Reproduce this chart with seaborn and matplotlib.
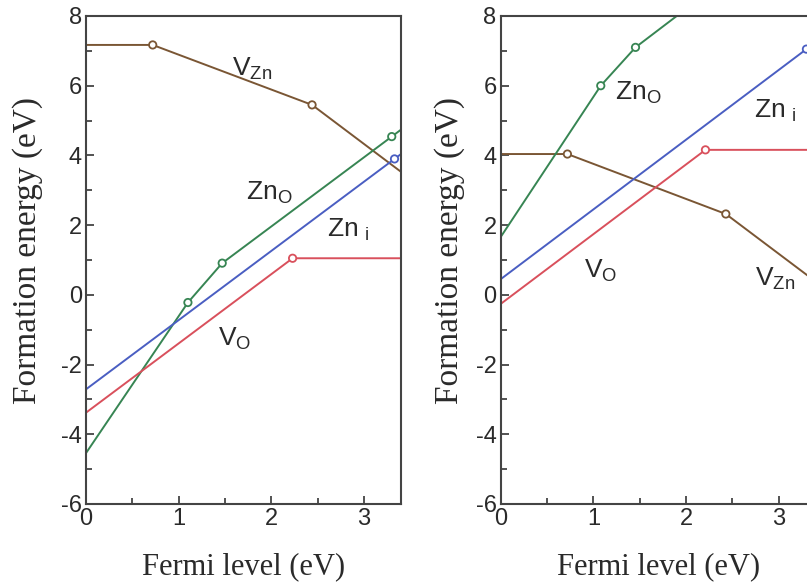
import matplotlib
matplotlib.use("Agg")
import matplotlib.pyplot as plt
import seaborn as sns
import pandas as pd
from matplotlib.ticker import MultipleLocator

# ---------------- data ----------------
# Left panel
L_VZn_x = [0.0, 0.72, 2.44, 3.4]
L_VZn_y = [7.17, 7.17, 5.45, 3.53]
L_ZnO_x = [0.0, 1.10, 1.47, 3.30, 3.4]
L_ZnO_y = [-4.54, -0.22, 0.91, 4.54, 4.74]
L_Zni_x = [0.0, 3.33, 3.4]
L_Zni_y = [-2.71, 3.90, 4.04]
L_VO_x = [0.0, 2.23, 3.4]
L_VO_y = [-3.38, 1.05, 1.05]

# Right panel
R_VZn_x = [0.0, 0.72, 2.43, 3.4]
R_VZn_y = [4.04, 4.04, 2.32, 0.38]
R_ZnO_x = [0.0, 1.08, 1.455, 1.90]
R_ZnO_y = [1.66, 6.00, 7.10, 8.00]
R_Zni_x = [0.0, 3.30, 3.4]
R_Zni_y = [0.45, 7.05, 7.25]
R_VO_x = [0.0, 2.21, 3.4]
R_VO_y = [-0.26, 4.16, 4.16]

# transition-level markers (open circles)
L_mark = {"VZn": [0.72, 2.44], "ZnO": [1.10, 1.47, 3.30], "Zni": [3.33], "VO": [2.23]}
R_mark = {"VZn": [0.72, 2.43], "ZnO": [1.08, 1.455], "Zni": [3.30], "VO": [2.21]}

defects = ["VZn", "ZnO", "Zni", "VO"]
colors = {"VZn": "#7a5634", "ZnO": "#378553", "Zni": "#4a5ec2", "VO": "#d9505c"}

xlabel = "Fermi level (eV)"
ylabel = "Formation energy (eV)"
xlim = (0, 3.4)
ylim = (-6, 8)

# label positions (data coords of text baseline-left)
L_labels = {"VZn": (1.58, 6.28), "ZnO": (1.73, 2.73), "Zni": (2.60, 1.66), "VO": (1.43, -1.46)}
R_labels = {"VZn": (2.75, 0.26), "ZnO": (1.23, 5.59), "Zni": (2.73, 5.07), "VO": (0.90, 0.49)}
label_text = {"VZn": r"$\mathregular{V_{Zn}}$", "ZnO": r"$\mathregular{Zn_{O}}$",
              "Zni": r"$\mathregular{Zn_{\ i}}$", "VO": r"$\mathregular{V_{O}}$"}

# ---------------- build tables ----------------
def table(xs, ys):
    rows = []
    for d in defects:
        for x, y in zip(xs[d], ys[d]):
            rows.append({"defect": d, "x": x, "y": y})
    return pd.DataFrame(rows)

L_df = table({"VZn": L_VZn_x, "ZnO": L_ZnO_x, "Zni": L_Zni_x, "VO": L_VO_x},
             {"VZn": L_VZn_y, "ZnO": L_ZnO_y, "Zni": L_Zni_y, "VO": L_VO_y})
R_df = table({"VZn": R_VZn_x, "ZnO": R_ZnO_x, "Zni": R_Zni_x, "VO": R_VO_x},
             {"VZn": R_VZn_y, "ZnO": R_ZnO_y, "Zni": R_Zni_y, "VO": R_VO_y})

def marks(df, mk):
    out = []
    for d in defects:
        sub = df[df.defect == d]
        for xv in mk[d]:
            out.append(sub[abs(sub.x - xv) < 1e-9])
    return pd.concat(out)

sns.set_style("ticks")
plt.rcParams["font.family"] = ["Liberation Sans", "DejaVu Sans"]
plt.rcParams["axes.unicode_minus"] = False
plt.rcParams["mathtext.fontset"] = "custom"

fig = plt.figure(figsize=(8.07, 5.88), dpi=100)
axL = fig.add_axes([86 / 807, 1 - 504 / 588, 315 / 807, 488 / 588])
axR = fig.add_axes([500.7 / 807, 1 - 504 / 588, 315 / 807, 488 / 588])

spine_col = "#444444"
text_col = "#2a2a2a"
for ax, df, mk, labs, ylx in [(axL, L_df, L_mark, L_labels, -0.137),
                              (axR, R_df, R_mark, R_labels, -0.113)]:
    sns.lineplot(data=df, x="x", y="y", hue="defect", palette=colors, sort=False,
                 estimator=None, units="defect", lw=1.4, legend=False, ax=ax, zorder=2)
    mdf = marks(df, mk)
    sns.scatterplot(data=mdf, x="x", y="y", hue="defect", palette=colors, ax=ax,
                    legend=False, s=28, zorder=3)
    coll = ax.collections[-1]
    coll.set_facecolor("white")
    coll.set_edgecolor([colors[d] for d in mdf.defect])
    coll.set_linewidth(1.3)
    coll.set_clip_on(False)
    for d in defects:
        ax.text(labs[d][0], labs[d][1], label_text[d], fontsize=19, color=text_col,
                family="Liberation Sans")
    ax.set_xlim(*xlim)
    ax.set_ylim(*ylim)
    ax.xaxis.set_major_locator(MultipleLocator(1))
    ax.xaxis.set_minor_locator(MultipleLocator(0.5))
    ax.yaxis.set_major_locator(MultipleLocator(2))
    ax.yaxis.set_minor_locator(MultipleLocator(1))
    ax.tick_params(which="both", direction="in", colors=spine_col, width=1.3,
                   labelcolor=text_col, labelsize=17, pad=3)
    ax.tick_params(which="major", length=6)
    ax.tick_params(which="minor", length=4)
    for s in ax.spines.values():
        s.set_color(spine_col)
        s.set_linewidth(1.5)
        s.set_visible(True)
    ax.set_xlabel(xlabel, family="Liberation Serif", fontsize=22, color=text_col, labelpad=16)
    ax.set_ylabel(ylabel, family="Liberation Serif", fontsize=24, color=text_col)
    ax.yaxis.set_label_coords(ylx, 0.52)

fig.savefig("out.png", dpi=100)
